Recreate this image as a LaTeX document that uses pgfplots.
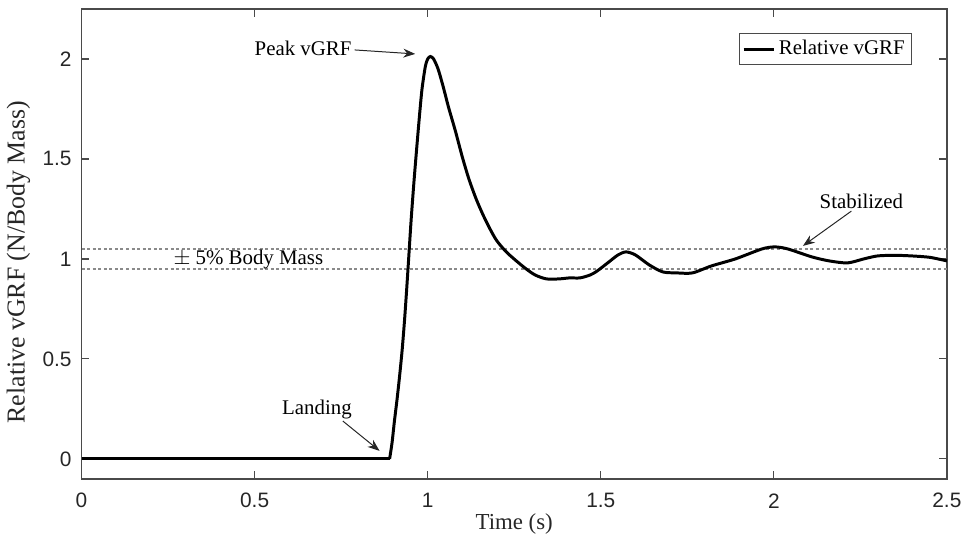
\documentclass[border=0pt]{standalone}
\usepackage{pgfplots}
\pgfplotsset{compat=1.18}
\usepackage{fontspec}
\setmainfont{Liberation Serif}
\newfontfamily\ticksans{Liberation Sans}
\usetikzlibrary{arrows.meta}
\definecolor{axgray}{HTML}{4A4A4A}
\definecolor{dotgray}{HTML}{8A8A8A}
\begin{document}
\begin{tikzpicture}
\begin{axis}[
  scale only axis,
  width=435.5pt, height=236.5pt,
  xmin=0, xmax=2.5, ymin=-0.1, ymax=2.25,
  xtick={0,0.5,1,1.5,2,2.5},
  ytick={0,0.5,1,1.5,2},
  tick align=inside,
  major tick length=4pt,
  axis line style={axgray, line width=0.7pt},
  tick style={axgray, line width=0.6pt},
  /pgf/number format/assume math mode=true,
  tick label style={font=\ticksans\fontsize{10.5}{12}\selectfont, text=black!85},
  xticklabel style={anchor=center, yshift=-11pt},
  yticklabel style={xshift=-1.5pt},
  xlabel={Time (s)},
  ylabel={Relative vGRF (N/Body Mass)},
  xlabel style={font=\fontsize{11.5}{13}\selectfont, text=black!85, at={(axis description cs:0.5,0)}, anchor=center, yshift=-22.5pt},
  ylabel style={font=\fontsize{13}{15}\selectfont, text=black!85, at={(axis description cs:-0.073,0.461)}, anchor=center},
  legend style={at={(rel axis cs:0.96,0.949)}, anchor=north east, draw=axgray,
    line width=0.6pt, font=\fontsize{10.5}{12}\selectfont, inner sep=1.5pt,
    row sep=-1pt},
  legend cell align=left,
  legend image code/.code={\draw[#1] (0pt,0pt) -- (15pt,0pt);},
  clip=false,
]
\addplot[forget plot, dotgray, line width=0.7pt, dash pattern=on 1.5pt off 1.3pt] coordinates {(0,1.05) (2.5,1.05)};
\addplot[forget plot, dotgray, line width=0.7pt, dash pattern=on 1.5pt off 1.3pt] coordinates {(0,0.95) (2.5,0.95)};
\addplot[forget plot, black, line width=1.5pt] coordinates {(0,0) (0.89,0)};
\addplot[black, line width=1.5pt, smooth, tension=0.45] coordinates {
(0.89,0) (0.897,0.08) (0.904,0.19) (0.911,0.29) (0.918,0.40) (0.926,0.54)
(0.933,0.69) (0.939,0.84) (0.945,1.0) (0.952,1.19) (0.961,1.40) (0.973,1.65)
(0.983,1.84) (0.993,1.96) (1.0,2.0) (1.008,2.012) (1.017,2.0) (1.03,1.95)
(1.045,1.86) (1.06,1.76) (1.08,1.64) (1.10,1.51) (1.119,1.40) (1.14,1.30)
(1.16,1.22) (1.18,1.15) (1.20,1.09) (1.23,1.03) (1.277,0.96) (1.31,0.92)
(1.343,0.90) (1.38,0.90) (1.41,0.905) (1.44,0.905) (1.47,0.92) (1.49,0.94)
(1.52,0.98) (1.55,1.02) (1.573,1.035) (1.60,1.02) (1.64,0.97) (1.679,0.935)
(1.72,0.93) (1.765,0.93) (1.82,0.965) (1.889,1.0) (1.966,1.05) (2.003,1.06)
(2.04,1.05) (2.11,1.01) (2.16,0.99) (2.213,0.98) (2.26,1.0) (2.30,1.015)
(2.35,1.018) (2.397,1.015) (2.45,1.008) (2.5,0.99)
};
\addlegendentry{Relative vGRF}
\node[font=\fontsize{10.5}{12}\selectfont] at (axis cs:0.64,2.055) {Peak vGRF};
\draw[-{Stealth[length=6pt,width=4.5pt]}, line width=0.5pt, black!85] (axis cs:0.789,2.045) -- (axis cs:0.964,2.025);
\node[font=\fontsize{10.5}{12}\selectfont] at (axis cs:0.68,0.249) {Landing};
\draw[-{Stealth[length=6pt,width=4.5pt]}, line width=0.5pt, black!85] (axis cs:0.755,0.189) -- (axis cs:0.861,0.04);
\node[font=\fontsize{10.5}{12}\selectfont] at (axis cs:2.253,1.289) {Stabilized};
\draw[-{Stealth[length=6pt,width=4.5pt]}, line width=0.5pt, black!85] (axis cs:2.224,1.239) -- (axis cs:2.084,1.065);
\node[font=\fontsize{10.5}{12}\selectfont] at (axis cs:0.482,0.995) {$\pm$ 5\% Body Mass};
\end{axis}
\useasboundingbox (current axis.south west) ++(-41pt,-30pt) rectangle ([xshift=7.5pt,yshift=4.5pt]current axis.north east);
\end{tikzpicture}
\end{document}
